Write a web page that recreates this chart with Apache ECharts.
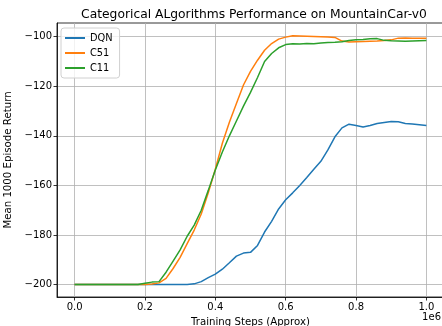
<!DOCTYPE html>
<html>
<head>
<meta charset="utf-8">
<script src="https://cdn.jsdelivr.net/npm/echarts@6/dist/echarts.min.js"></script>
<style>
  html, body { margin: 0; padding: 0; background: #fff; }
  #chart { width: 442px; height: 326px; }
</style>
</head>
<body>
<div id="chart"></div>
<script>
  // training steps in units of 1e6
  const steps = [0, 0.02, 0.04, 0.06, 0.08, 0.1, 0.12, 0.14, 0.16, 0.18,
    0.2, 0.22, 0.24, 0.26, 0.28, 0.3, 0.32, 0.34, 0.36, 0.38,
    0.4, 0.42, 0.44, 0.46, 0.48, 0.5, 0.52, 0.54, 0.56, 0.58,
    0.6, 0.62, 0.64, 0.66, 0.68, 0.7, 0.72, 0.74, 0.76, 0.78,
    0.8, 0.82, 0.84, 0.86, 0.88, 0.9, 0.92, 0.94, 0.96, 0.98, 1.0]

  const dqn = [-200, -200, -200, -200, -200, -200, -200, -200, -200, -200,
    -200, -200, -200, -200, -200, -200, -200, -199.7, -198.8, -197.2,
    -195.8, -193.8, -191.2, -188.5, -187.3, -187.0, -184.2, -178.8, -174.5, -169.5,
    -165.8, -163, -160, -156.8, -153.5, -150.3, -145.7, -140.4, -136.8, -135.3,
    -135.8, -136.4, -135.8, -135.0, -134.6, -134.2, -134.3, -135.0, -135.2, -135.5, -135.8]

  const c51 = [-200, -200, -200, -200, -200, -200, -200, -200, -200, -200,
    -200, -199.8, -199.3, -197.5, -193.5, -189, -183.5, -178, -171.5, -163,
    -153.5, -143, -134.5, -127, -119.5, -114, -109.5, -105.5, -102.8, -101,
    -100.2, -99.6, -99.7, -99.8, -99.9, -100, -100.1, -100.3, -101.8, -102.2,
    -102.1, -102, -101.9, -101.8, -101.6, -101.3, -100.6, -100.5, -100.6, -100.7, -100.6]

  const c11 = [-200, -200, -200, -200, -200, -200, -200, -200, -200, -200,
    -199.5, -199, -198.8, -195, -190.5, -186, -180.5, -176, -170, -162,
    -153.8, -146.5, -140, -134, -128, -122.5, -116.5, -110, -106.8, -104.5,
    -103.2, -102.9, -103.0, -102.8, -102.9, -102.6, -102.4, -102.3, -102.1, -101.6,
    -101.3, -101.2, -100.9, -100.8, -101.5, -101.7, -101.8, -101.9, -101.8, -101.7, -101.6]

  const xTicks = [0, 0.2, 0.4, 0.6, 0.8, 1.0]
  const yTicks = [-200, -180, -160, -140, -120, -100]

  const font = 'DejaVu Sans'
  const pair = ys => steps.map((x, i) => [x, ys[i]])
  const minus = v => v < 0 ? '\u2212' + Math.abs(v) : String(v)

  const chart = echarts.init(document.getElementById('chart'))
  chart.setOption({
    animation: false,
    textStyle: { fontFamily: font },
    title: {
      text: 'Categorical ALgorithms Performance on MountainCar-v0',
      left: 249,
      top: 4,
      textAlign: 'center',
      textStyle: { fontFamily: font, fontSize: 12.3, fontWeight: 'normal', color: '#000' }
    },
    grid: {
      left: 57, top: 23, right: -2, bottom: 29,
      outerBoundsMode: 'none',
      show: true, borderColor: '#000', borderWidth: 0.8
    },
    legend: {
      orient: 'vertical',
      left: 61, top: 28,
      padding: [4, 7, 4, 4],
      itemWidth: 20, itemHeight: 2, itemGap: 3,
      icon: 'rect',
      backgroundColor: 'rgba(255,255,255,0.8)',
      borderColor: '#d0d0d0', borderWidth: 1, borderRadius: 3,
      textStyle: { fontFamily: font, fontSize: 9.8, color: '#000', lineHeight: 12 },
      data: ['DQN', 'C51', 'C11']
    },
    xAxis: {
      type: 'value',
      min: -0.05, max: 1.05,
      name: 'Training Steps (Approx)',
      nameLocation: 'middle', nameGap: 20,
      nameTextStyle: { fontFamily: font, fontSize: 10.2, color: '#000' },
      axisLine: { onZero: false, lineStyle: { color: '#000', width: 0.8 } },
      axisTick: { customValues: xTicks, length: 3.5, lineStyle: { color: '#000', width: 0.8 } },
      axisLabel: {
        customValues: xTicks, color: '#000', fontSize: 10, margin: 5,
        formatter: v => v.toFixed(1)
      },
      splitLine: { show: true, lineStyle: { color: '#b0b0b0', width: 0.8 } }
    },
    yAxis: {
      type: 'value',
      min: -205, max: -94.5,
      name: 'Mean 1000 Episode Return',
      nameLocation: 'middle', nameGap: 40,
      nameTextStyle: { fontFamily: font, fontSize: 10.2, color: '#000' },
      axisLine: { show: true, onZero: false, lineStyle: { color: '#000', width: 0.8 } },
      axisTick: { show: true, customValues: yTicks, length: 3.5, lineStyle: { color: '#000', width: 0.8 } },
      axisLabel: { customValues: yTicks, color: '#000', fontSize: 10, margin: 5, formatter: minus },
      splitLine: { show: true, lineStyle: { color: '#b0b0b0', width: 0.8 } }
    },
    graphic: [{
      type: 'text', right: 1, bottom: 4,
      style: { text: '1e6', font: '10px "DejaVu Sans"', fill: '#000' }
    }],
    series: [
      { name: 'DQN', type: 'line', data: pair(dqn), showSymbol: false, color: '#1f77b4', lineStyle: { width: 1.5 } },
      { name: 'C51', type: 'line', data: pair(c51), showSymbol: false, color: '#ff7f0e', lineStyle: { width: 1.5 } },
      { name: 'C11', type: 'line', data: pair(c11), showSymbol: false, color: '#2ca02c', lineStyle: { width: 1.5 } }
    ]
  })
</script>
</body>
</html>
